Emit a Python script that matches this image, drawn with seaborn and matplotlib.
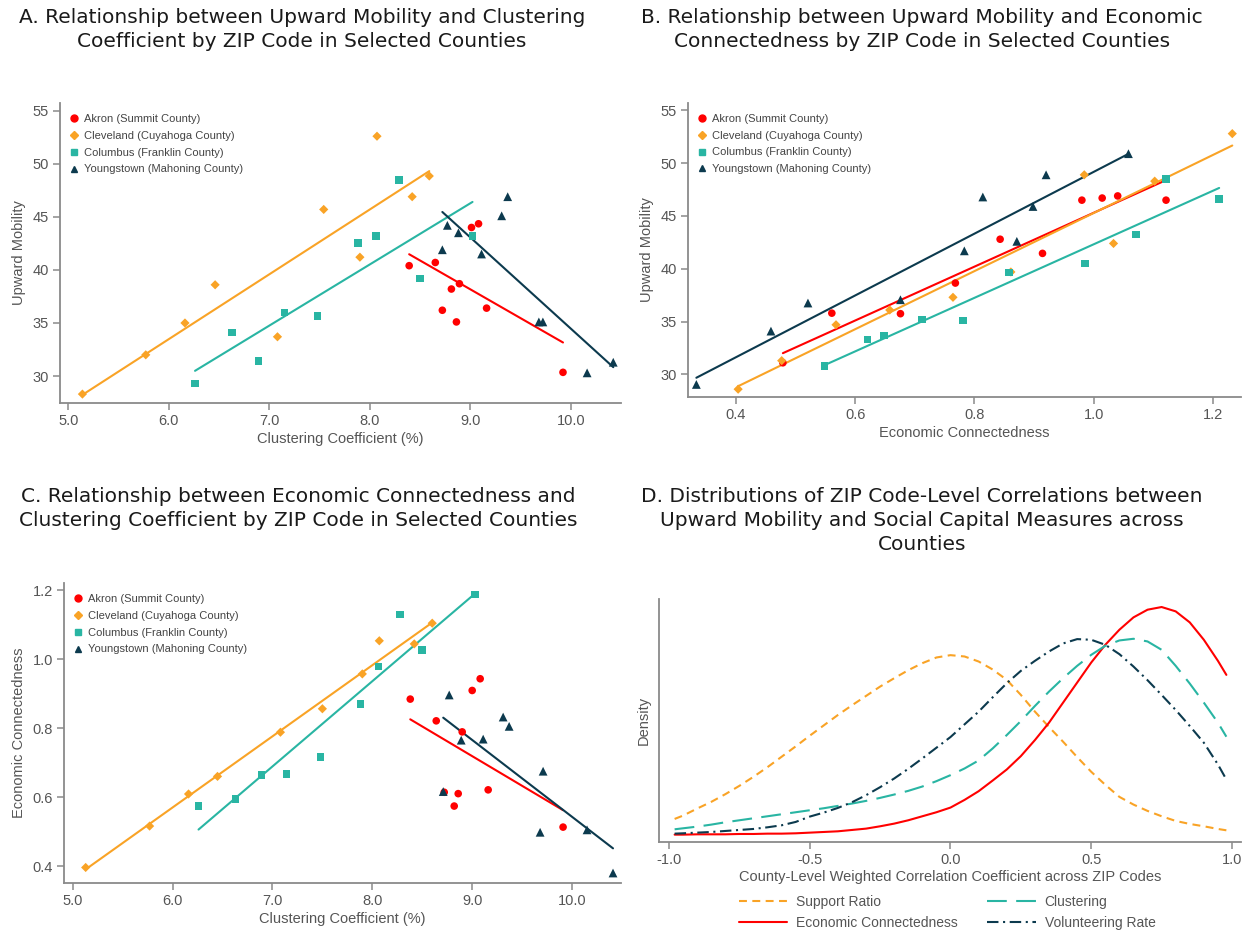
import matplotlib
matplotlib.use("Agg")
import matplotlib.pyplot as plt
import seaborn as sns
import pandas as pd
from matplotlib.lines import Line2D
from matplotlib.ticker import FormatStrFormatter, MultipleLocator

# ---------------- data ----------------
cities = ["Akron (Summit County)", "Cleveland (Cuyahoga County)",
          "Columbus (Franklin County)", "Youngstown (Mahoning County)"]

# Panel A: clustering coefficient (%) vs upward mobility
a_akron_cc = [8.39, 8.65, 9.01, 9.08, 8.89, 8.81, 9.16, 8.72, 8.86, 9.92]
a_akron_um = [40.4, 40.7, 44.0, 44.35, 38.7, 38.2, 36.4, 36.2, 35.1, 30.35]
a_cleve_cc = [5.14, 5.77, 6.16, 6.46, 7.08, 7.54, 7.90, 8.07, 8.42, 8.59]
a_cleve_um = [28.3, 32.0, 35.0, 38.6, 33.7, 45.7, 41.2, 52.6, 46.9, 48.85]
a_colum_cc = [6.26, 6.63, 6.89, 7.15, 7.48, 7.88, 8.06, 8.29, 8.50, 9.02]
a_colum_um = [29.3, 34.1, 31.4, 36.0, 35.65, 42.56, 43.2, 48.5, 39.2, 43.2]
a_young_cc = [8.72, 8.77, 8.88, 9.11, 9.31, 9.37, 9.68, 9.72, 10.16, 10.42]
a_young_um = [41.9, 44.2, 43.5, 41.5, 45.1, 46.9, 35.1, 35.1, 30.3, 31.3]

# Panel B: economic connectedness vs upward mobility
b_akron_ec = [0.479, 0.561, 0.676, 0.768, 0.843, 0.914, 0.980, 1.014, 1.040, 1.121]
b_akron_um = [31.1, 35.8, 35.75, 38.65, 42.8, 41.46, 46.5, 46.7, 46.9, 46.5]
b_cleve_ec = [0.404, 0.477, 0.568, 0.658, 0.764, 0.861, 0.984, 1.033, 1.102, 1.232]
b_cleve_um = [28.6, 31.3, 34.7, 36.1, 37.3, 39.7, 48.9, 42.4, 48.3, 52.8]
b_colum_ec = [0.549, 0.621, 0.648, 0.712, 0.781, 0.858, 0.985, 1.071, 1.121, 1.210]
b_colum_um = [30.8, 33.3, 33.7, 35.2, 35.1, 39.66, 40.5, 43.26, 48.5, 46.6]
b_young_ec = [0.334, 0.459, 0.521, 0.676, 0.783, 0.814, 0.871, 0.898, 0.920, 1.058]
b_young_um = [29.05, 34.1, 36.76, 37.07, 41.7, 46.8, 42.6, 45.9, 48.9, 50.9]

# Panel C: clustering coefficient (%) vs economic connectedness
c_akron_cc = [8.38, 8.64, 9.00, 9.08, 8.90, 9.16, 8.86, 8.82, 9.91, 8.72]
c_akron_ec = [0.885, 0.822, 0.910, 0.944, 0.790, 0.622, 0.611, 0.575, 0.514, 0.615]
c_cleve_cc = [5.13, 5.77, 6.16, 6.45, 7.08, 7.50, 7.90, 8.07, 8.42, 8.60]
c_cleve_ec = [0.397, 0.517, 0.610, 0.661, 0.789, 0.857, 0.958, 1.054, 1.045, 1.105]
c_colum_cc = [6.26, 6.63, 6.89, 7.14, 7.48, 7.88, 8.06, 8.28, 8.50, 9.03]
c_colum_ec = [0.575, 0.595, 0.665, 0.668, 0.718, 0.871, 0.979, 1.130, 1.028, 1.188]
c_young_cc = [8.71, 8.77, 8.89, 9.11, 9.31, 9.37, 9.68, 9.71, 10.15, 10.41]
c_young_ec = [0.617, 0.897, 0.766, 0.769, 0.833, 0.806, 0.499, 0.676, 0.506, 0.381]

# Panel D: density (relative units) of county-level correlations
d_grid = [-0.98, -0.95, -0.90, -0.85, -0.80, -0.75, -0.70, -0.65, -0.60, -0.55,
          -0.50, -0.45, -0.40, -0.35, -0.30, -0.25, -0.20, -0.15, -0.10, -0.05,
          0.00, 0.05, 0.10, 0.15, 0.20, 0.25, 0.30, 0.35, 0.40, 0.45,
          0.50, 0.55, 0.60, 0.65, 0.70, 0.75, 0.80, 0.85, 0.90, 0.95, 0.98]
d_support = [47, 57, 78, 98, 121, 146, 173, 202, 233, 264,
             296, 327, 358, 387, 415, 443, 468, 492, 513, 530,
             537, 533, 518, 494, 463, 418, 368, 322, 278, 232,
             188, 149, 113, 90, 71, 55, 41, 32, 25, 17, 13]
d_econ = [0, 0, 1, 1, 1, 2, 2, 3, 3, 4,
          6, 8, 10, 14, 18, 25, 33, 43, 55, 67,
          81, 104, 130, 162, 195, 235, 283, 335, 395, 455,
          515, 568, 613, 650, 673, 681, 668, 635, 583, 520, 478]
d_cluster = [16, 19, 24, 30, 37, 43, 49, 55, 61, 67,
             73, 79, 86, 93, 101, 110, 120, 131, 144, 160,
             178, 198, 222, 258, 298, 340, 385, 428, 468, 505,
             538, 565, 581, 586, 578, 553, 505, 452, 395, 335, 293]
d_volunteer = [3, 4, 6, 8, 11, 14, 17, 22, 28, 38,
               54, 66, 80, 97, 118, 142, 168, 197, 228, 260,
               292, 330, 368, 411, 453, 490, 520, 548, 572, 585,
               583, 568, 540, 503, 462, 418, 373, 325, 275, 210, 165]

# ---------------- style ----------------
colors = ["#ff0000", "#f9a326", "#29b5a3", "#0c3a4e"]
markers = ["o", "D", "s", "^"]
msizes = [30, 22, 30, 40]
gray = "#555555"
spine_gray = "#8a8a8a"

sns.set_theme(style="ticks")
plt.rcParams["font.family"] = ["Liberation Sans", "DejaVu Sans"]
plt.rcParams["axes.edgecolor"] = spine_gray
plt.rcParams["xtick.color"] = spine_gray
plt.rcParams["ytick.color"] = spine_gray
plt.rcParams["xtick.labelcolor"] = gray
plt.rcParams["ytick.labelcolor"] = gray

W, H = 1251, 934
fig = plt.figure(figsize=(W / 100, H / 100), dpi=100)


def px_axes(x0, y0, x1, y1):
    return fig.add_axes([x0 / W, 1 - y1 / H, (x1 - x0) / W, (y1 - y0) / H])


def style_axes(ax):
    sns.despine(ax=ax)
    for s in ("left", "bottom"):
        ax.spines[s].set_linewidth(1.3)
        ax.spines[s].set_color(spine_gray)
    ax.tick_params(length=5, width=1.1, labelsize=10.5, pad=3)


def scatter_panel(ax, xs, ys):
    for i, (x, y) in enumerate(zip(xs, ys)):
        sns.regplot(x=x, y=y, ax=ax, scatter=False, ci=None, truncate=True,
                    color=colors[i], line_kws={"lw": 1.5})
    for i, (x, y) in enumerate(zip(xs, ys)):
        sns.scatterplot(x=x, y=y, ax=ax, marker=markers[i], s=msizes[i],
                        color=colors[i], edgecolor="none", linewidth=0, zorder=3)
    handles = [Line2D([], [], ls="none", marker=markers[i], color=colors[i],
                      markersize=5 if markers[i] != "D" else 4.5, label=cities[i])
               for i in range(4)]
    leg = ax.legend(handles=handles, loc="upper left", frameon=False, fontsize=8,
                    handletextpad=0.3, labelspacing=0.62, borderaxespad=0.3,
                    handlelength=1.2, bbox_to_anchor=(0.0, 0.99))
    for t in leg.get_texts():
        t.set_color("#444444")


def panel_title(xc, ytop, text):
    fig.text(xc / W, 1 - ytop / H, text, ha="center", va="top", fontsize=14.5,
             color="#1a1a1a", family=["DejaVu Sans"], linespacing=1.33)


# ---------------- Panel A ----------------
axA = px_axes(60, 103, 621, 403)
scatter_panel(axA, [a_akron_cc, a_cleve_cc, a_colum_cc, a_young_cc],
              [a_akron_um, a_cleve_um, a_colum_um, a_young_um])
axA.set_xlim(4.917, 10.497)
axA.set_ylim(27.46, 55.73)
axA.xaxis.set_major_locator(MultipleLocator(1.0))
axA.xaxis.set_major_formatter(FormatStrFormatter("%.1f"))
axA.yaxis.set_major_locator(MultipleLocator(5))
axA.set_xlabel("Clustering Coefficient (%)", fontsize=10.5, color=gray, labelpad=3)
axA.set_ylabel("Upward Mobility", fontsize=10.5, color=gray, labelpad=5)
style_axes(axA)
panel_title(302, 8, "A. Relationship between Upward Mobility and Clustering\n"
                    "Coefficient by ZIP Code in Selected Counties")

# ---------------- Panel B ----------------
axB = px_axes(688, 103, 1241, 397)
scatter_panel(axB, [b_akron_ec, b_cleve_ec, b_colum_ec, b_young_ec],
              [b_akron_um, b_cleve_um, b_colum_um, b_young_um])
axB.set_xlim(0.32, 1.2466)
axB.set_ylim(27.86, 55.7)
axB.xaxis.set_major_locator(MultipleLocator(0.2))
axB.xaxis.set_major_formatter(FormatStrFormatter("%.1f"))
axB.yaxis.set_major_locator(MultipleLocator(5))
axB.set_xlabel("Economic Connectedness", fontsize=10.5, color=gray, labelpad=3)
axB.set_ylabel("Upward Mobility", fontsize=10.5, color=gray, labelpad=5)
style_axes(axB)
panel_title(922, 8, "B. Relationship between Upward Mobility and Economic\n"
                    "Connectedness by ZIP Code in Selected Counties")

# ---------------- Panel C ----------------
axC = px_axes(64, 583, 621, 883)
scatter_panel(axC, [c_akron_cc, c_cleve_cc, c_colum_cc, c_young_cc],
              [c_akron_ec, c_cleve_ec, c_colum_ec, c_young_ec])
axC.set_xlim(4.913, 10.49)
axC.set_ylim(0.352, 1.2215)
axC.xaxis.set_major_locator(MultipleLocator(1.0))
axC.xaxis.set_major_formatter(FormatStrFormatter("%.1f"))
axC.yaxis.set_major_locator(MultipleLocator(0.2))
axC.yaxis.set_major_formatter(FormatStrFormatter("%.1f"))
axC.set_xlabel("Clustering Coefficient (%)", fontsize=10.5, color=gray, labelpad=3)
axC.set_ylabel("Economic Connectedness", fontsize=10.5, color=gray, labelpad=5)
style_axes(axC)
panel_title(298, 487, "C. Relationship between Economic Connectedness and\n"
                      "Clustering Coefficient by ZIP Code in Selected Counties")

# ---------------- Panel D ----------------
axD = px_axes(659, 599, 1241, 842)
measures = ["Support Ratio", "Economic Connectedness", "Clustering", "Volunteering Rate"]
dens = pd.DataFrame({
    "r": d_grid * 4,
    "density": d_support + d_econ + d_cluster + d_volunteer,
    "measure": [m for m in measures for _ in d_grid],
})
d_styles = {
    "Support Ratio": dict(color="#f9a326", dashes=(3.8, 2.6)),
    "Economic Connectedness": dict(color="#ff0000", dashes=None),
    "Clustering": dict(color="#29b5a3", dashes=(9.5, 4.5)),
    "Volunteering Rate": dict(color="#0c3a4e", dashes=(5.5, 2.2, 1.0, 2.2)),
}
for name in measures:
    sub = dens[dens["measure"] == name]
    st = d_styles[name]
    sns.lineplot(data=sub, x="r", y="density", ax=axD, color=st["color"], lw=1.5,
                 label=name, sort=True)
    line = axD.get_lines()[-1]
    if st["dashes"] is not None:
        line.set_dashes(st["dashes"])
axD.set_xlim(-1.0355, 1.032)
axD.set_ylim(-22, 705)
axD.xaxis.set_major_locator(MultipleLocator(0.5))
axD.xaxis.set_major_formatter(FormatStrFormatter("%.1f"))
axD.set_yticks([])
axD.set_xlabel("County-Level Weighted Correlation Coefficient across ZIP Codes",
               fontsize=10.5, color=gray, labelpad=2)
axD.set_ylabel("Density", fontsize=10.5, color=gray, labelpad=6)
style_axes(axD)
axD.get_legend().remove()
hD = axD.get_lines()
legD = axD.legend(handles=hD, labels=[h.get_label() for h in hD],
                  loc="upper center", bbox_to_anchor=(0.495, -0.168), ncol=2,
                  frameon=False, fontsize=10, handlelength=3.5, handletextpad=0.65,
                  columnspacing=2.1, labelspacing=0.5)
for t in legD.get_texts():
    t.set_color(gray)
panel_title(922, 487, "D. Distributions of ZIP Code-Level Correlations between\n"
                      "Upward Mobility and Social Capital Measures across\n"
                      "Counties")

fig.savefig("out.png", dpi=100)
